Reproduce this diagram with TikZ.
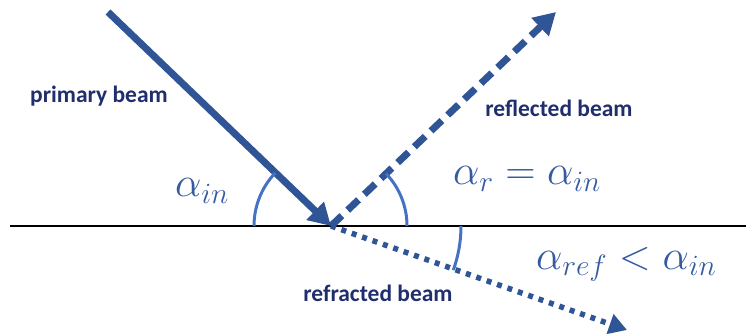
\RequirePackage{fix-cm}
\documentclass[tikz,border=0pt]{standalone}
\usepackage{fontspec}
\setmainfont{Carlito}
\usetikzlibrary{arrows.meta}
\definecolor{beam}{RGB}{47,85,151}
\definecolor{lbl}{RGB}{32,46,110}
\definecolor{mth}{RGB}{52,90,160}
\definecolor{arcc}{RGB}{68,114,196}
\tikzset{
  beamline/.style={draw=beam, line width=7pt},
  txt/.style={text=lbl, font=\fontsize{23.5}{26}\selectfont\bfseries, inner sep=0pt},
  mlab/.style={text=mth, font=\fontsize{42}{44}\selectfont, inner sep=0pt},
  anglearc/.style={draw=arcc, line width=3pt},
}
\begin{document}
\begin{tikzpicture}[x=1pt,y=1pt]
\useasboundingbox (0,0) rectangle (746,336);
\coordinate (O) at (331,110);
\coordinate (L) at (10,110);
\coordinate (R) at (746,110);
\coordinate (P) at (108,324);
\coordinate (Q) at (556,324);
\coordinate (S) at (627,6);
% surface
\draw[black, line width=2pt] (L) -- (R);
% beams
\draw[beamline, -{Triangle[length=22pt,width=24pt]}] (P) -- (O);
\draw[beamline, dash pattern=on 15pt off 8pt, -{Triangle[length=22pt,width=24pt]}] (O) -- (Q);
\draw[draw=beam, line width=5.5pt, dash pattern=on 5pt off 6pt, -{Triangle[length=18pt,width=20pt]}] (O) -- (S);
% angle arcs
\draw[anglearc] (O) ++(180:77) arc[start angle=180, end angle=136.4, radius=77];
\draw[anglearc] (O) ++(0:76) arc[start angle=0, end angle=43.6, radius=76];
\draw[anglearc] (O) ++(0:130) arc[start angle=0, end angle=-19.8, radius=130];
% labels
\node[txt] (pb) at (99,240) {primary beam};
\node[txt] (rb) at (559,228) {reflected beam};
\node[txt] (fb) at (378,43) {refracted beam};
\node[mlab] (ain) at (202,145) {$\alpha_{in}$};
\node[mlab] (ar) at (527,157) {$\alpha_{r}=\alpha_{in}$};
\node[mlab, anchor=west] (aref) at (536,72) {$\alpha_{ref}<\alpha_{in}$};
\end{tikzpicture}
\end{document}
